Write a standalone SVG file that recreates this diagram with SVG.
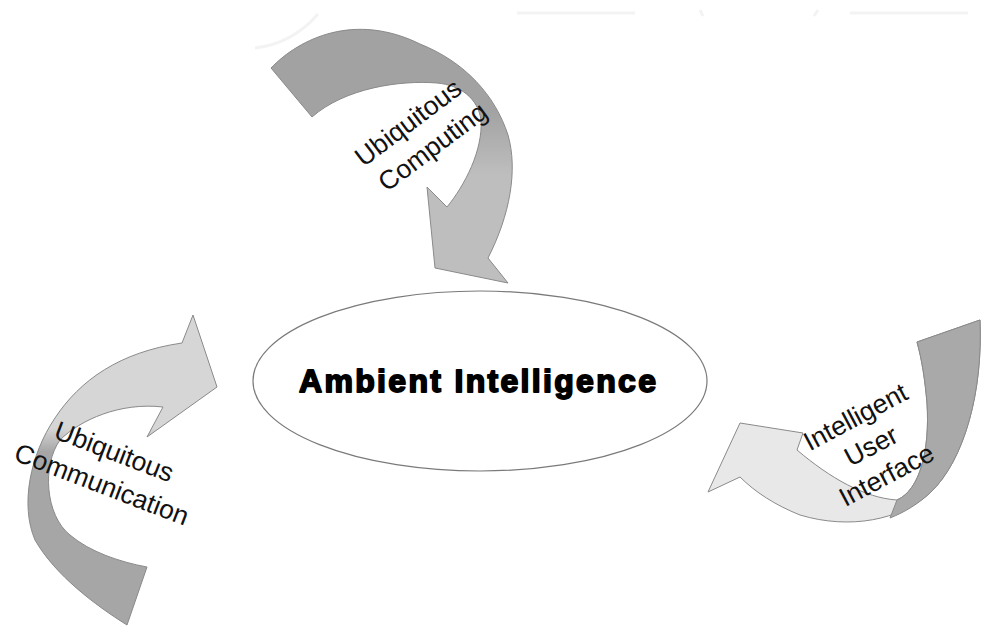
<svg xmlns="http://www.w3.org/2000/svg" width="981" height="628" viewBox="0 0 981 628">
<defs>
<style>
.arrow{stroke:#8a8a8a;stroke-width:1;stroke-linejoin:round}
.lbl{font-family:"Liberation Sans",Arial,sans-serif;font-size:26.5px;fill:#111}
.title{font-family:"Liberation Sans",Arial,sans-serif;font-size:32px;font-weight:bold;fill:#000;stroke:#000;stroke-width:1.8;stroke-linejoin:round}
.faint{stroke:#f3f3f3;stroke-width:3;fill:none}
</style>
<linearGradient id="gTop" gradientUnits="userSpaceOnUse" x1="0" y1="110" x2="0" y2="175">
<stop offset="0" stop-color="#a2a2a2"/>
<stop offset="1" stop-color="#bebebe"/>
</linearGradient>
<linearGradient id="gLeft" gradientUnits="userSpaceOnUse" x1="0" y1="428" x2="0" y2="452">
<stop offset="0" stop-color="#d6d6d6"/>
<stop offset="1" stop-color="#a6a6a6"/>
</linearGradient>
</defs>
<rect width="981" height="628" fill="#fff"/>
<g id="artifacts">
<path class="faint" d="M517,13 L635,13 M850,13 L968,13 M700,10 L703,16 M814,16 L818,10 M255,48 C280,45 300,35 318,14"/>
</g>
<g id="connectors">
<g id="arrow-ubiquitous-computing">
<path class="arrow" fill="url(#gTop)" d="M271,68 C300,38 355,12 420,44 C465,62 495,95 508,135 C518,170 510,215 488,258 L508,283 L435,268 L427,187 L447,207 C465,185 483,150 481,120 C478,98 460,85 437,83 C400,80 345,88 312,117 Z"/>
<text class="lbl" transform="translate(420,135) rotate(-37)" text-anchor="middle"><tspan x="-2" y="-8">Ubiquitous</tspan><tspan x="3" y="26">Computing</tspan></text>
</g>
<g id="arrow-ubiquitous-communication">
<path class="arrow" fill="url(#gLeft)" d="M147,567 L127,625 C95,605 55,575 35,540 C20,505 30,455 55,418 C80,380 120,352 182,343 L193,315 L217,387 L147,437 L163,407 C120,402 80,420 60,440 C42,465 45,515 70,535 C90,552 120,562 147,567 Z"/>
<text class="lbl" transform="translate(108,468) rotate(21)" text-anchor="middle"><tspan x="0" y="-8.5">Ubiquitous</tspan><tspan x="0" y="26.5">Communication</tspan></text>
</g>
<g id="arrow-intelligent-user-interface">
<path class="arrow" fill="#e8e8e8" d="M917,342 L980,320 C983,390 965,460 930,493 C900,520 850,530 800,515 C775,505 755,492 740,477 L708,492 L740,423 L803,433 L797,450 C830,478 865,498 897,500 C920,490 930,450 927,403 C925,380 922,360 917,342 Z"/>
<path fill="#a9a9a9" stroke="#8a8a8a" stroke-width="1" d="M917,342 L980,320 C983,390 965,460 930,493 C918,504 905,512 890,518 L897,500 C920,490 930,450 927,403 C925,380 922,360 917,342 Z"/>
<text class="lbl" transform="translate(871,446) rotate(-28)" text-anchor="middle"><tspan x="0" y="-24">Intelligent</tspan><tspan x="0" y="9">User</tspan><tspan x="0" y="42">Interface</tspan></text>
</g>
</g>
<g id="node-ambient-intelligence">
<ellipse cx="480" cy="381" rx="227" ry="90" fill="#fff" stroke="#7a7a7a" stroke-width="1.2"/>
<text class="title" x="299" y="392" textLength="357" lengthAdjust="spacing">Ambient Intelligence</text>
</g>
</svg>
